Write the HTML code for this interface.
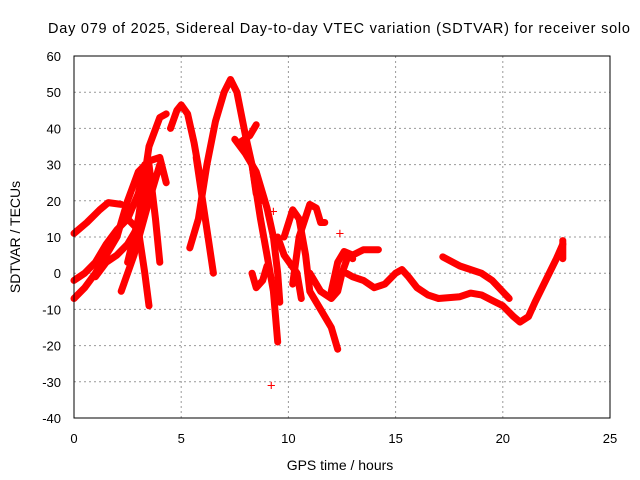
<!DOCTYPE html>
<html><head><meta charset="utf-8"><style>
body{margin:0;background:#fff;}
svg{display:block;font-family:"Liberation Sans",sans-serif;font-size:13px;}
</style></head><body>
<svg id="chart" width="640" height="480" viewBox="0 0 640 480">
<text x="339" y="33" text-anchor="middle" font-size="14.5" textLength="582">Day 079 of 2025, Sidereal Day-to-day VTEC variation (SDTVAR) for receiver solo</text>
<text x="340" y="470" text-anchor="middle" font-size="14">GPS time / hours</text>
<text transform="translate(20,237) rotate(-90)" text-anchor="middle" font-size="14">SDTVAR / TECUs</text>
<g id="grid"></g><g id="ticks"></g><g id="marks"></g>
<rect x="74" y="56" width="536" height="362" fill="none" stroke="#000" stroke-width="1"/>
</svg>
<script>
const xTicks=[0,5,10,15,20,25];
const yTicks=[-40,-30,-20,-10,0,10,20,30,40,50,60];
const track1=[[0,11],[0.6,14],[1.2,17.5],[1.6,19.5],[2.2,19]];
const track2=[[0,-7],[0.5,-4],[1,0],[1.5,5],[2,10],[2.5,20],[3,28],[3.5,31],[4,32],[4.3,25]];
const track3=[[0,-2],[0.5,0],[1,3],[1.5,8],[2,12],[2.5,15],[3,22],[3.3,30]];
const track4=[[2.5,3],[3,15],[3.5,35],[4,43],[4.3,44]];
const track5=[[2.5,15],[3,12],[3.3,0],[3.5,-9]];
const track6=[[3.5,30],[3.8,15],[4,3]];
const track7=[[2.2,-5],[2.8,5],[3.5,20],[4,30]];
const track8=[[1,-1],[1.5,3],[2,5],[2.5,8],[3,13],[3.3,18],[3.6,27]];
const track9=[[4.5,40],[4.8,45],[5,46.5],[5.3,44],[5.6,36],[5.9,26]];
const track10=[[5.4,7],[5.8,15],[6.2,30],[6.6,42],[7,50],[7.3,53.5],[7.6,50],[8,38],[8.3,30],[8.5,22],[8.7,20]];
const track11=[[5.7,32],[6,20],[6.3,8],[6.5,0]];
const track12=[[7.5,37],[8,33],[8.5,28],[9,18],[9.3,10],[9.5,0],[9.6,-8]];
const track13=[[7.7,36],[8.2,38],[8.5,41]];
const track14=[[7.9,36],[8.3,30],[8.7,15],[9,5],[9.3,-5],[9.5,-19]];
const track15=[[8.3,0],[8.5,-4],[8.8,-2],[9,2]];
const track16=[[9.8,10],[10.2,17.5],[10.5,15],[10.8,5],[11,-5],[11.5,-10],[12,-15],[12.3,-21]];
const track17=[[10.2,-3],[10.5,10],[11,19],[11.3,18],[11.5,14],[11.7,14]];
const track18=[[9.5,10],[9.8,5],[10.4,0],[10.6,-7]];
const track19=[[11,0],[11.5,-5],[12,-7],[12.3,-5],[12.5,0],[12.8,5],[13,4]];
const track20=[[12,-5],[12.3,3],[12.6,6],[13,5],[13.5,6.5],[14.2,6.5]];
const track21=[[12.7,0],[13,-1],[13.5,-2],[14,-4],[14.5,-3],[15,0],[15.3,1],[15.6,-1],[16,-4],[16.5,-6],[17,-7],[18,-6.5],[18.5,-5.5],[19,-6],[19.5,-7.5],[20,-9],[20.5,-12],[20.8,-13.5],[21.2,-12],[21.5,-8],[22,-2],[22.5,4],[22.8,8]];
const track22=[[17.2,4.5],[18,2],[19,0],[19.5,-2],[20.3,-7]];
const track23=[[22.8,4],[22.8,9]];
const singles=[[9.2,-31],[12.4,11],[9.3,17]];
const tracks=[track1,track2,track3,track4,track5,track6,track7,track8,track9,track10,track11,track12,track13,track14,track15,track16,track17,track18,track19,track20,track21,track22,track23];
const X=v=>74+v*(536/25), Y=v=>418-(v+40)*(362/100);
const NS="http://www.w3.org/2000/svg";
const grid=document.getElementById('grid'),ticks=document.getElementById('ticks'),marks=document.getElementById('marks');
function mk(tag,attrs,parent){const e=document.createElementNS(NS,tag);for(const k in attrs)e.setAttribute(k,attrs[k]);parent.appendChild(e);return e;}
xTicks.forEach(t=>{
 if(t>0&&t<25){const g=mk('line',{x1:X(t),x2:X(t),y1:56,y2:418,stroke:'#999','stroke-dasharray':'2,3'},grid);
 
 }
 const l=mk('text',{x:X(t),y:443,'text-anchor':'middle'},ticks);l.textContent=t;
 
 
});
yTicks.forEach(t=>{
 if(t>-40&&t<60){const g=mk('line',{x1:74,x2:610,y1:Y(t),y2:Y(t),stroke:'#999','stroke-dasharray':'2,3'},grid);
 
 }
 const l=mk('text',{x:61,y:Y(t)+5,'text-anchor':'end'},ticks);l.textContent=t;
 
 
});
tracks.forEach(tr=>{
 const d=tr.map((p,i)=>(i?'L':'M')+X(p[0]).toFixed(1)+','+Y(p[1]).toFixed(1)).join('');
 const p=mk('path',{d:d,fill:'none',stroke:'#f00','stroke-width':7,'stroke-linejoin':'round','stroke-linecap':'round'},marks);
 
 
});
singles.forEach(s=>{
 const t=mk('text',{x:X(s[0]),y:Y(s[1])+5,'text-anchor':'middle',fill:'#f00','font-size':'15'},marks);t.textContent='+';
 
 
});
</script>
</body></html>
